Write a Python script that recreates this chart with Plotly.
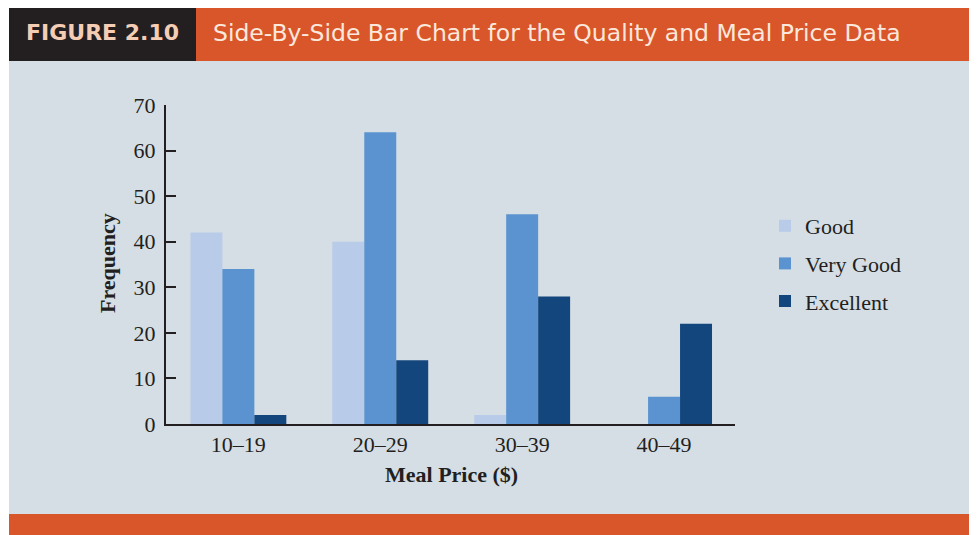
import plotly.graph_objects as go

categories = ["10–19", "20–29", "30–39", "40–49"]
good = [42, 40, 2, 0]
very_good = [34, 64, 46, 6]
excellent = [2, 14, 28, 22]
series_names = ["Good", "Very Good", "Excellent"]
series_colors = ["#b8cbe8", "#5a93cf", "#13467d"]
y_ticks = [0, 10, 20, 30, 40, 50, 60, 70]

# page has an 8px body margin; figure sized so it fills the 977x535 window
OFF = 8
W, H = 977 - OFF, 535 - OFF
L, R, T, B = 166, 735, 105, 424  # plot area bounds in screen pixels


def px(x):
    return (x - L) / (R - L)


def py(y):
    return (B - y) / (B - T)


fig = go.Figure()
for name, vals, col in zip(series_names, [good, very_good, excellent], series_colors):
    fig.add_trace(go.Bar(x=categories, y=vals, name=name, marker_color=col,
                         marker_line_width=0, legendgroup=name))

serif = "Liberation Serif"
ink = "#231f20"

shapes = [
    dict(type="rect", xref="paper", yref="paper", x0=px(9), x1=px(980), y0=py(514), y1=py(61),
         fillcolor="#d5dee5", line_width=0, layer="below"),
    dict(type="rect", xref="paper", yref="paper", x0=px(9), x1=px(196), y0=py(61), y1=py(7),
         fillcolor="#231f20", line_width=0, layer="below"),
    dict(type="rect", xref="paper", yref="paper", x0=px(196), x1=px(980), y0=py(61), y1=py(7),
         fillcolor="#d9552a", line_width=0, layer="below"),
    dict(type="rect", xref="paper", yref="paper", x0=px(9), x1=px(980), y0=py(540), y1=py(514),
         fillcolor="#d9552a", line_width=0, layer="below"),
]

annotations = [
    dict(text="<b>FIGURE 2.10</b>", xref="paper", yref="paper", x=px(102), y=py(33),
         xanchor="center", yanchor="middle", showarrow=False,
         font=dict(family="DejaVu Sans", size=22, color="#f4cdb4")),
    dict(text="Side-By-Side Bar Chart for the Quality and Meal Price Data", xref="paper", yref="paper",
         x=px(211), y=py(33), xanchor="left", yanchor="middle", showarrow=False,
         font=dict(family="DejaVu Sans", size=23.5, color="#fbe8dc")),
    dict(text="<b>Frequency</b>", xref="paper", yref="paper", x=px(107), y=py(263),
         xanchor="center", yanchor="middle", textangle=-90, showarrow=False,
         font=dict(family=serif, size=22, color=ink)),
    dict(text="<b>Meal Price ($)</b>", xref="paper", yref="paper", x=px(451), y=py(474),
         xanchor="center", yanchor="middle", showarrow=False,
         font=dict(family=serif, size=22, color=ink)),
]

fig.update_layout(
    width=W, height=H,
    margin=dict(l=L - OFF, r=W + OFF - R, t=T - OFF, b=H + OFF - B, pad=0),
    paper_bgcolor="white",
    plot_bgcolor="rgba(0,0,0,0)",
    barmode="group",
    bargap=0.324,
    bargroupgap=0,
    shapes=shapes,
    annotations=annotations,
    showlegend=True,
    legend=dict(x=px(765), y=py(205), xanchor="left", yanchor="top",
                bgcolor="rgba(0,0,0,0)", font=dict(family=serif, size=22, color=ink),
                traceorder="grouped", tracegroupgap=6, itemwidth=30),
    xaxis=dict(range=[-0.51, 3.5], showline=True, linecolor=ink, linewidth=2,
               ticks="", showgrid=False, zeroline=False,
               tickfont=dict(family=serif, size=22, color=ink)),
    yaxis=dict(range=[0, 70], tickvals=y_ticks, showline=True, linecolor=ink, linewidth=2,
               ticks="inside", ticklen=10, tickwidth=2, tickcolor=ink,
               showgrid=False, zeroline=False, ticklabelstandoff=4,
               tickfont=dict(family=serif, size=22, color=ink)),
)

fig.write_html("out.html")
